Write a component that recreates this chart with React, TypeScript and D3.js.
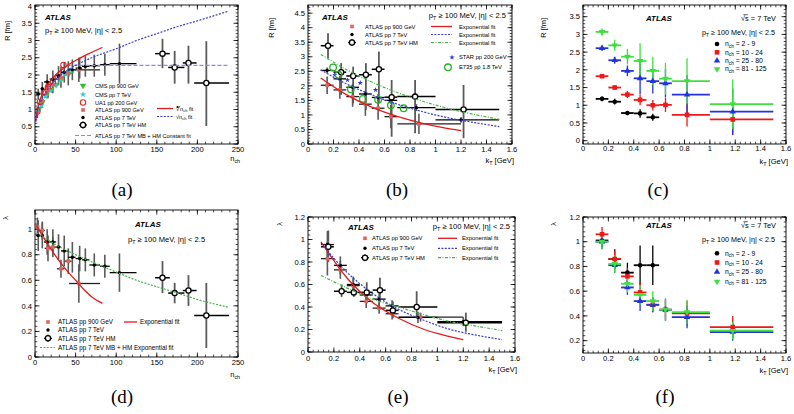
import React from 'react';
import * as d3 from 'd3';

// row: x, y, xLo, xHi, yLo, yHi
type Row = [number, number, number, number, number, number];
type Box = { l: number; r: number; t: number; b: number };
type MarkerKind = 'dot' | 'hm' | 'ocircle' | 'bigocircle' | 'square' | 'bigsquare' | 'circle' | 'tup' | 'tdown' | 'star' | 'smallstar';

const FONT = "'Liberation Sans', Arial, Helvetica, sans-serif";
const SALMON = '#e4615b';
const C_RED = '#f01818';
const C_BLUE = '#2233dd';
const C_GREEN = '#3ee03e';

// ---------- (a) / (d) : n_ch dependence ----------
const nchCMS900 = [5, 9, 14, 20, 26, 33, 42];
const rCMS900 = [1.02, 1.2, 1.42, 1.58, 1.72, 1.9, 2.05];
const nchCMS7 = [4, 8, 13, 19, 25, 31, 38, 46];
const rCMS7 = [0.95, 1.12, 1.38, 1.55, 1.72, 1.85, 2.02, 2.12];
const nchUA1 = [3, 6, 11, 16, 22, 28, 35];
const rUA1 = [0.95, 1.22, 1.5, 1.65, 1.8, 1.95, 2.29];

const nch900 = [3, 9, 16, 22, 32, 41, 54];
const nch900Lo = [1, 6, 12, 19, 27, 36, 42];
const nch900Hi = [5, 12, 19, 26, 36, 45, 80];
const r900n = [0.9, 1.25, 1.58, 1.72, 1.93, 2.05, 2.15];
const r900nErr = [0.15, 0.2, 0.25, 0.25, 0.3, 0.35, 0.35];
const lam900n = [1.02, 0.99, 0.85, 0.86, 0.69, 0.75, 0.575];
const lam900nErr = [0.07, 0.07, 0.1, 0.08, 0.07, 0.1, 0.15];

const nchMB = [4, 9, 15, 22, 29, 36, 46, 55, 62, 73, 86, 104];
const nchMBLo = [1, 7, 11, 18, 26, 32, 41, 50, 58, 67, 80, 92];
const nchMBHi = [7, 11, 18, 26, 32, 41, 50, 58, 67, 80, 92, 125];
const rMBn = [1.45, 1.6, 1.8, 1.88, 1.98, 2.08, 2.15, 2.2, 2.25, 2.27, 2.3, 2.33];
const rMBnErr = [0.15, 0.2, 0.22, 0.25, 0.28, 0.3, 0.3, 0.3, 0.3, 0.32, 0.32, 0.58];
const lamMBn = [0.95, 0.95, 0.9, 0.9, 0.86, 0.83, 0.78, 0.77, 0.76, 0.72, 0.71, 0.66];
const lamMBnErr = [0.12, 0.1, 0.1, 0.1, 0.1, 0.12, 0.12, 0.1, 0.09, 0.09, 0.09, 0.15];

const nchHM = [157, 172, 189, 211];
const nchHMLo = [148, 164, 182, 196];
const nchHMHi = [166, 184, 199, 239];
const rHMn = [2.62, 2.22, 2.35, 1.77];
const rHMnLo = [2.2, 1.75, 1.75, 0.52];
const rHMnHi = [3.05, 2.7, 2.85, 2.98];
const lamHMn = [0.62, 0.5, 0.52, 0.325];
const lamHMnLo = [0.5, 0.42, 0.4, 0.07];
const lamHMnHi = [0.75, 0.58, 0.64, 0.58];

const fitA_red: [number, number][] = [[1, 0.7], [3, 1.0], [5, 1.2], [10, 1.5], [20, 1.85], [30, 2.1], [40, 2.28], [50, 2.42], [60, 2.55], [70, 2.66], [83, 2.8]];
const fitA_blue: [number, number][] = [[1, 0.65], [3, 0.95], [5, 1.1], [10, 1.38], [20, 1.72], [30, 1.97], [50, 2.28], [75, 2.55], [100, 2.76], [125, 3.0], [150, 3.2], [175, 3.4], [200, 3.57], [238, 3.85]];
const fitA_const: [number, number][] = [[40, 2.28], [238, 2.28]];
const fitD_red: [number, number][] = [[2, 1.03], [10, 0.94], [20, 0.84], [30, 0.75], [40, 0.67], [50, 0.6], [60, 0.53], [70, 0.47], [83, 0.42]];
const fitD_green: [number, number][] = [[2, 0.97], [25, 0.88], [50, 0.8], [75, 0.73], [100, 0.665], [125, 0.6], [150, 0.55], [175, 0.5], [200, 0.45], [238, 0.39]];

// ---------- (b) / (e) : k_T dependence ----------
const kT900 = [0.15, 0.25, 0.35, 0.45, 0.55, 0.65, 0.87];
const kT900Lo = [0.1, 0.2, 0.3, 0.4, 0.5, 0.6, 0.7];
const kT900Hi = [0.2, 0.3, 0.4, 0.5, 0.6, 0.7, 1.2];
const r900k = [2.02, 1.86, 1.63, 1.37, 1.23, 0.94, 0.69];
const r900kErr = [0.3, 0.3, 0.35, 0.4, 0.4, 0.4, 0.35];
const lam900k = [0.83, 0.73, 0.59, 0.45, 0.39, 0.34, 0.31];
const lam900kErr = [0.15, 0.08, 0.07, 0.06, 0.05, 0.05, 0.04];

const kTMB = [0.15, 0.25, 0.35, 0.45, 0.55, 0.65, 0.85, 1.2];
const kTLo = [0.1, 0.2, 0.3, 0.4, 0.5, 0.6, 0.7, 1.0];
const kTHi = [0.2, 0.3, 0.4, 0.5, 0.6, 0.7, 1.0, 1.5];
const rMBk = [2.53, 2.24, 1.95, 1.72, 1.6, 1.5, 1.25, 0.83];
const rMBkErr = [0.1, 0.1, 0.12, 0.12, 0.12, 0.12, 0.12, 0.1];
const lamMBk = [0.955, 0.77, 0.6, 0.507, 0.47, 0.41, 0.307, 0.27];
const lamMBkErr = [0.12, 0.08, 0.07, 0.06, 0.06, 0.05, 0.05, 0.04];

const kTHM = [0.157, 0.26, 0.354, 0.454, 0.556, 0.656, 0.84, 1.22];
const rHMk = [3.38, 2.47, 2.34, 2.38, 2.57, 1.61, 1.63, 1.19];
const rHMkLo = [2.95, 1.69, 1.4, 1.17, 1.4, 0.25, 0.37, 0.2];
const rHMkHi = [3.81, 2.78, 2.66, 2.78, 3.18, 2.2, 2.2, 2.03];
const lamHMk = [0.935, 0.54, 0.53, 0.53, 0.55, 0.37, 0.4, 0.26];
const lamHMkLo = [0.8, 0.49, 0.49, 0.45, 0.45, 0.3, 0.3, 0.18];
const lamHMkHi = [1.08, 0.6, 0.59, 0.62, 0.66, 0.45, 0.54, 0.35];

const kTSTAR = [0.21, 0.31, 0.41, 0.53];
const rSTAR = [2.38, 2.2, 2.1, 1.86];
const kTE735 = [0.197, 0.24, 0.336, 0.43, 0.55, 0.65, 0.75];
const rE735 = [2.63, 2.38, 1.88, 1.55, 1.52, 1.33, 1.23];

const fitB_red: [number, number][] = [[0.1, 2.27], [0.3, 1.7], [0.5, 1.27], [0.7, 0.95], [0.9, 0.71], [1.05, 0.57], [1.2, 0.46]];
const fitB_blue: [number, number][] = [[0.1, 2.55], [0.3, 2.07], [0.5, 1.69], [0.7, 1.37], [0.9, 1.11], [1.1, 0.9], [1.3, 0.74], [1.5, 0.6]];
const fitB_green: [number, number][] = [[0.1, 3.08], [0.3, 2.56], [0.5, 2.13], [0.7, 1.77], [0.9, 1.47], [1.1, 1.22], [1.3, 1.02], [1.5, 0.85]];
const fitE_red: [number, number][] = [[0.1, 0.98], [0.3, 0.66], [0.5, 0.44], [0.7, 0.3], [0.9, 0.2], [1.05, 0.15], [1.2, 0.11]];
const fitE_blue: [number, number][] = [[0.1, 0.97], [0.3, 0.71], [0.5, 0.52], [0.7, 0.38], [0.9, 0.28], [1.1, 0.2], [1.3, 0.15], [1.5, 0.11]];
const fitE_green: [number, number][] = [[0.1, 0.68], [0.3, 0.57], [0.5, 0.47], [0.7, 0.4], [0.9, 0.33], [1.1, 0.27], [1.3, 0.23], [1.5, 0.19]];

// ---------- (c) / (f) : k_T in n_ch bins, 7 TeV ----------
const kTC = [0.15, 0.25, 0.35, 0.45, 0.55, 0.65, 0.82, 1.18];
const rC_2_9 = [1.18, 1.1, 0.78, 0.77, 0.66];
const rC_2_9Err = [0.07, 0.08, 0.06, 0.12, 0.1];
const rC_10_24 = [1.82, 1.5, 1.3, 1.15, 1.0, 1.01, 0.73, 0.6];
const rC_10_24Err = [0.05, 0.06, 0.1, 0.15, 0.15, 0.2, 0.33, 0.45];
const rC_25_80 = [2.61, 2.27, 1.97, 1.76, 1.68, 1.62, 1.3, 0.82];
const rC_25_80Err = [0.08, 0.1, 0.15, 0.45, 0.35, 0.4, 0.55, 0.65];
const rC_81_125 = [3.07, 2.69, 2.37, 2.25, 1.97, 1.75, 1.68, 1.03];
const rC_81_125Err = [0.1, 0.15, 0.22, 0.5, 0.4, 0.45, 0.65, 0.7];
const lamF_2_9 = [1.01, 0.86, 0.75, 0.81, 0.81];
const lamF_2_9Err = [0.05, 0.08, 0.08, 0.16, 0.16];
const lamF_10_24 = [1.06, 0.86, 0.72, 0.59, 0.49, 0.45, 0.42, 0.31];
const lamF_10_24Err = [0.06, 0.07, 0.07, 0.08, 0.06, 0.08, 0.1, 0.09];
const lamF_25_80 = [1.0, 0.81, 0.63, 0.52, 0.49, 0.45, 0.39, 0.27];
const lamF_25_80Err = [0.06, 0.06, 0.06, 0.08, 0.06, 0.09, 0.09, 0.07];
const lamF_81_125 = [1.0, 0.82, 0.66, 0.57, 0.52, 0.45, 0.43, 0.28];
const lamF_81_125Err = [0.06, 0.07, 0.07, 0.08, 0.08, 0.09, 0.1, 0.07];

// ---------- tick labels ----------
const nchTicks = [0, 50, 100, 150, 200, 250];
const kTTicks = [0, 0.2, 0.4, 0.6, 0.8, 1, 1.2, 1.4, 1.6];
const rTicksA = [0, 0.5, 1, 1.5, 2, 2.5, 3, 3.5, 4];
const rTicksB = [0, 0.5, 1, 1.5, 2, 2.5, 3, 3.5, 4, 4.5];
const rTicksC = [0, 0.5, 1, 1.5, 2, 2.5, 3, 3.5];
const lamTicksD = [0, 0.2, 0.4, 0.6, 0.8, 1];
const lamTicksE = [0, 0.2, 0.4, 0.6, 0.8, 1, 1.2];
const lamTicksF = [0.2, 0.4, 0.6, 0.8, 1, 1.2];

function rowsErr(x: number[], y: number[], x0: number[], x1: number[], err: number[]): Row[] {
    return y.map((v, i) => [x[i], v, x0[i], x1[i], v - err[i], v + err[i]] as Row);
}
function rowsLoHi(x: number[], y: number[], x0: number[], x1: number[], lo: number[], hi: number[]): Row[] {
    return y.map((v, i) => [x[i], v, x0[i], x1[i], lo[i], hi[i]] as Row);
}
function rowsPlain(x: number[], y: number[]): Row[] {
    return y.map((v, i) => [x[i], v, x[i], x[i], v, v] as Row);
}

interface Series {
    rows: Row[];
    marker: MarkerKind;
    color: string;
    hColor?: string;
    vColor?: string;
    hWidth?: number;
    vWidth?: number;
}
interface Fit {
    pts: [number, number][];
    color: string;
    dash?: string;
    width?: number;
}

function Marker({ kind, x, y, color }: { kind: MarkerKind; x: number; y: number; color: string }) {
    switch (kind) {
        case 'dot':
            return <circle cx={x} cy={y} r={1.7} fill={color} />;
        case 'circle':
            return <circle cx={x} cy={y} r={2.3} fill={color} />;
        case 'hm':
            return <circle cx={x} cy={y} r={2.6} fill="#fff" stroke="#000" strokeWidth={1.3} />;
        case 'ocircle':
            return <circle cx={x} cy={y} r={2.7} fill="none" stroke={color} strokeWidth={1.1} />;
        case 'bigocircle':
            return <circle cx={x} cy={y} r={3.3} fill="none" stroke={color} strokeWidth={1.3} />;
        case 'square':
            return <rect x={x - 1.8} y={y - 1.8} width={3.6} height={3.6} fill={color} />;
        case 'bigsquare':
            return <rect x={x - 2.3} y={y - 2.3} width={4.6} height={4.6} fill={color} />;
        case 'tup':
            return <path d={d3.symbol(d3.symbolTriangle, 18)()!} transform={`translate(${x},${y})`} fill={color} />;
        case 'tdown':
            return <path d={d3.symbol(d3.symbolTriangle, 18)()!} transform={`translate(${x},${y}) rotate(180)`} fill={color} />;
        case 'star':
            return <path d={d3.symbol(d3.symbolStar, 14)()!} transform={`translate(${x},${y})`} fill={color} />;
        case 'smallstar':
            return <path d={d3.symbol(d3.symbolStar, 9)()!} transform={`translate(${x},${y})`} fill={color} />;
    }
    return null;
}

interface PanelProps {
    box: Box;
    xDom: [number, number];
    yDom: [number, number];
    xTicks: number[];
    yTicks: number[];
    xMinor: number;
    yMinor: number;
    series: Series[];
    fits: Fit[];
    xTitle: React.ReactNode;
    yTitle: React.ReactNode;
    yTitleX: number;
    yTitleEnd: number;
    xTitleY: number;
    xLabelY: number;
    label: string;
    labelX: number;
    labelY: number;
    children?: React.ReactNode;
}

const TICK_FS = 7.6;

function Panel(p: PanelProps) {
    const { box } = p;
    const x = d3.scaleLinear().domain(p.xDom).range([box.l, box.r]);
    const y = d3.scaleLinear().domain(p.yDom).range([box.b, box.t]);
    const line = d3.line<[number, number]>().x(d => x(d[0])).y(d => y(d[1])).curve(d3.curveMonotoneX);
    const eps = 1e-9;
    const xMin = d3.range(Math.ceil(p.xDom[0] / p.xMinor - eps) * p.xMinor, p.xDom[1] + eps, p.xMinor);
    const yMin = d3.range(Math.ceil(p.yDom[0] / p.yMinor - eps) * p.yMinor, p.yDom[1] + eps, p.yMinor);
    const maj = 4.5, mnr = 2.3;
    const fmt = (v: number) => String(+v.toFixed(2));
    return (
        <g fontFamily={FONT}>
            <defs>
                <clipPath id={`clip-${p.label}`}>
                    <rect x={box.l} y={box.t} width={box.r - box.l} height={box.b - box.t} />
                </clipPath>
            </defs>
            {xMin.map((v, i) => (
                <g key={'xm' + i} stroke="#000" strokeWidth={0.7}>
                    <line x1={x(v)} x2={x(v)} y1={box.b} y2={box.b - mnr} />
                    <line x1={x(v)} x2={x(v)} y1={box.t} y2={box.t + mnr} />
                </g>
            ))}
            {yMin.map((v, i) => (
                <g key={'ym' + i} stroke="#000" strokeWidth={0.7}>
                    <line x1={box.l} x2={box.l + mnr} y1={y(v)} y2={y(v)} />
                    <line x1={box.r} x2={box.r - mnr} y1={y(v)} y2={y(v)} />
                </g>
            ))}
            {p.xTicks.map((v, i) => (
                <g key={'xt' + i}>
                    <line x1={x(v)} x2={x(v)} y1={box.b} y2={box.b - maj} stroke="#000" strokeWidth={0.8} />
                    <line x1={x(v)} x2={x(v)} y1={box.t} y2={box.t + maj} stroke="#000" strokeWidth={0.8} />
                    <text x={x(v)} y={p.xLabelY} fontSize={TICK_FS} textAnchor="middle">{fmt(v)}</text>
                </g>
            ))}
            {p.yTicks.map((v, i) => (
                <g key={'yt' + i}>
                    <line x1={box.l} x2={box.l + maj} y1={y(v)} y2={y(v)} stroke="#000" strokeWidth={0.8} />
                    <line x1={box.r} x2={box.r - maj} y1={y(v)} y2={y(v)} stroke="#000" strokeWidth={0.8} />
                    <text x={box.l - 3} y={y(v) + 2.7} fontSize={TICK_FS} textAnchor="end">{fmt(v)}</text>
                </g>
            ))}
            <g clipPath={`url(#clip-${p.label})`}>
                {p.series.map((s, si) => (
                    <g key={'s' + si}>
                        {s.rows.map((r, i) => (
                            <g key={i}>
                                {r[4] !== r[5] && (
                                    <line x1={x(r[0])} x2={x(r[0])} y1={y(r[4])} y2={y(r[5])}
                                        stroke={s.vColor ?? s.color} strokeWidth={s.vWidth ?? 1.4} />
                                )}
                                {r[2] !== r[3] && (
                                    <line x1={x(r[2])} x2={x(r[3])} y1={y(r[1])} y2={y(r[1])}
                                        stroke={s.hColor ?? s.color} strokeWidth={s.hWidth ?? 1.4} />
                                )}
                            </g>
                        ))}
                    </g>
                ))}
                {p.series.map((s, si) => (
                    <g key={'m' + si}>
                        {s.rows.map((r, i) => (
                            <Marker key={i} kind={s.marker} x={x(r[0])} y={y(r[1])} color={s.color} />
                        ))}
                    </g>
                ))}
                {p.fits.map((f, fi) => (
                    <path key={'f' + fi} d={line(f.pts)!} fill="none" stroke={f.color}
                        strokeWidth={f.width ?? 1.2} strokeDasharray={f.dash} />
                ))}
            </g>
            <rect x={box.l} y={box.t} width={box.r - box.l} height={box.b - box.t} fill="none" stroke="#000" strokeWidth={0.9} />
            <text x={box.r + 2} y={p.xTitleY} fontSize={7.6} textAnchor="end">{p.xTitle}</text>
            <text transform={`translate(${p.yTitleX},${p.yTitleEnd}) rotate(-90)`} fontSize={7.4} textAnchor="end">{p.yTitle}</text>
            <text x={p.labelX} y={p.labelY} fontFamily="'Liberation Serif', 'Times New Roman', serif" fontSize={19} textAnchor="middle">({p.label})</text>
            {p.children}
        </g>
    );
}

function PtText({ x, y, anchor = 'start', size = 7.6 }: { x: number; y: number; anchor?: string; size?: number }) {
    return (
        <text x={x} y={y} fontFamily={FONT} fontSize={size} textAnchor={anchor as any}>
            p<tspan dy={1.8} fontSize={size * 0.7}>T</tspan><tspan dy={-1.8}>{' \u2265 100 MeV, |\u03b7| < 2.5'}</tspan>
        </text>
    );
}
function Atlas({ x, y, anchor = 'start' }: { x: number; y: number; anchor?: string }) {
    return <text x={x} y={y} fontFamily={FONT} fontSize={7.9} fontWeight="bold" fontStyle="italic" textAnchor={anchor as any}>ATLAS</text>;
}
function SqrtS({ x, y }: { x: number; y: number }) {
    const fs = 7.4;
    return (
        <g fontFamily={FONT} fontSize={fs}>
            <text x={x} y={y} textAnchor="end">{'\u221As = 7 TeV'}</text>
            <line x1={x - 4.86 * fs + 0.45 * fs} x2={x - 4.86 * fs + 1.05 * fs} y1={y - 6.3} y2={y - 6.3} stroke="#000" strokeWidth={0.6} />
        </g>
    );
}
function Nch({ size }: { size: number }) {
    return <>n<tspan dy={1.6} fontSize={size * 0.7}>ch</tspan></>;
}
function KT() {
    return <>k<tspan dy={1.6} fontSize={5.4}>T</tspan><tspan dy={-1.6}> [GeV]</tspan></>;
}

function LegMarker({ kind, x, y, color, cross }: { kind: MarkerKind; x: number; y: number; color: string; cross?: boolean }) {
    return (
        <g>
            {cross && <line x1={x - 4} x2={x + 4} y1={y} y2={y} stroke="#000" strokeWidth={1.2} />}
            {cross && <line x1={x} x2={x} y1={y - 3.5} y2={y + 3.5} stroke="#000" strokeWidth={1.2} />}
            <Marker kind={kind} x={x} y={y} color={color} />
        </g>
    );
}

function NchLegend({ x, ys, size }: { x: number; ys: number[]; size: number }) {
    const items: [MarkerKind, string, string][] = [
        ['circle', '#000', '2 - 9'],
        ['bigsquare', C_RED, '10 - 24'],
        ['tup', C_BLUE, '25 - 80'],
        ['tdown', C_GREEN, '81 - 125'],
    ];
    return (
        <g fontFamily={FONT} fontSize={size}>
            {items.map((it, i) => (
                <g key={i}>
                    <Marker kind={it[0]} x={x} y={ys[i]} color={it[1]} />
                    <text x={x + 8} y={ys[i] + 2.3}>
                        n<tspan dy={1.5} fontSize={size * 0.7}>ch</tspan><tspan dy={-1.5}>{' = ' + it[2]}</tspan>
                    </text>
                </g>
            ))}
        </g>
    );
}

export default function App() {
    const W = 794, H = 414;
    const grey = '#5a5a5a';

    const mb = (rows: Row[]): Series => ({ rows, marker: 'dot', color: '#000', hColor: '#000', vColor: grey, hWidth: 1.3, vWidth: 1.6 });
    const hm = (rows: Row[]): Series => ({ rows, marker: 'hm', color: '#000', hColor: '#000', vColor: grey, hWidth: 1.5, vWidth: 1.8 });
    const s900 = (rows: Row[]): Series => ({ rows, marker: 'square', color: SALMON, hColor: '#222', vColor: grey, hWidth: 1.3, vWidth: 1.6 });
    const nchSer = (rows: Row[], marker: MarkerKind, color: string): Series => ({ rows, marker, color, hWidth: 1.8, vWidth: 1.3 });

    const kc5 = kTC.slice(0, 5), klo5 = kTLo.slice(0, 5), khi5 = kTHi.slice(0, 5);

    return (
        <svg width={W} height={H} style={{ position: 'absolute', left: 0, top: 0, background: '#fff' }}>
            <rect width={W} height={H} fill="#fff" />

            {/* (a) */}
            <Panel box={{ l: 35, r: 238, t: 5, b: 144 }} xDom={[0, 250]} yDom={[0, 4.03]}
                xTicks={nchTicks} yTicks={rTicksA} xMinor={10} yMinor={0.1}
                series={[
                    { rows: rowsPlain(nchCMS900, rCMS900), marker: 'tdown', color: '#2fbf2f' },
                    { rows: rowsPlain(nchCMS7, rCMS7), marker: 'star', color: '#33cccc' },
                    { rows: rowsPlain(nchUA1, rUA1), marker: 'ocircle', color: '#e02a2a' },
                    s900(rowsErr(nch900, r900n, nch900Lo, nch900Hi, r900nErr)),
                    mb(rowsErr(nchMB, rMBn, nchMBLo, nchMBHi, rMBnErr)),
                    hm(rowsLoHi(nchHM, rHMn, nchHMLo, nchHMHi, rHMnLo, rHMnHi)),
                ]}
                fits={[
                    { pts: fitA_const, color: '#8a8ae8', dash: '4,2' },
                    { pts: fitA_red, color: '#e21b1b', width: 1.3 },
                    { pts: fitA_blue, color: '#3a3ad0', dash: '2,1.4' },
                ]}
                xTitle={<Nch size={7.6} />} yTitle="R [fm]" yTitleX={10} yTitleEnd={21} xTitleY={161} xLabelY={152}
                label="a" labelX={122} labelY={196}>
                <Atlas x={45} y={20} />
                <PtText x={45} y={33} />
                <g fontFamily={FONT} fontSize={5.6}>
                    <LegMarker kind="tdown" x={83} y={85.5} color="#2fbf2f" />
                    <text x={95} y={87.5}>CMS pp 900 GeV</text>
                    <LegMarker kind="star" x={83} y={94.5} color="#33cccc" />
                    <text x={95} y={96.5}>CMS pp 7 TeV</text>
                    <LegMarker kind="ocircle" x={83} y={102.5} color="#e02a2a" />
                    <text x={95} y={104.5}>{'UA1 pp\u0304 200 GeV'}</text>
                    <LegMarker kind="square" x={83} y={110} color={SALMON} />
                    <text x={95} y={112}>ATLAS pp 900 GeV</text>
                    <LegMarker kind="dot" x={83} y={117.5} color="#000" />
                    <text x={95} y={119.5}>ATLAS pp 7 TeV</text>
                    <LegMarker kind="hm" x={83} y={125} color="#000" cross />
                    <text x={95} y={127}>ATLAS pp 7 TeV HM</text>
                    <line x1={75} x2={92} y1={135.5} y2={135.5} stroke="#8a8ae8" strokeWidth={1.2} strokeDasharray="4,2" />
                    <text x={95} y={137.5}>ATLAS pp 7 TeV MB + HM Constant fit</text>
                    <line x1={157} x2={173} y1={108.5} y2={108.5} stroke="#e21b1b" strokeWidth={1.3} />
                    <text x={176} y={111}>{'\u221Bn'}<tspan dy={1.3} fontSize={4}>ch</tspan><tspan dy={-1.3}> fit</tspan></text>
                    <line x1={157} x2={173} y1={116.5} y2={116.5} stroke="#3a3ad0" strokeWidth={1.2} strokeDasharray="2,1.4" />
                    <text x={176} y={119}>{'\u221An'}<tspan dy={1.3} fontSize={4}>ch</tspan><tspan dy={-1.3}> fit</tspan></text>
                </g>
            </Panel>

            {/* (b) */}
            <Panel box={{ l: 308, r: 512, t: 5, b: 144 }} xDom={[0, 1.6]} yDom={[0, 4.78]}
                xTicks={kTTicks} yTicks={rTicksB} xMinor={0.04} yMinor={0.1}
                series={[
                    s900(rowsErr(kT900, r900k, kT900Lo, kT900Hi, r900kErr)),
                    mb(rowsErr(kTMB, rMBk, kTLo, kTHi, rMBkErr)),
                    hm(rowsLoHi(kTHM, rHMk, kTLo, kTHi, rHMkLo, rHMkHi)),
                    { rows: rowsPlain(kTSTAR, rSTAR), marker: 'smallstar', color: '#3333cc' },
                    { rows: rowsPlain(kTE735, rE735), marker: 'bigocircle', color: '#27b027' },
                ]}
                fits={[
                    { pts: fitB_red, color: '#e21b1b', width: 1.3 },
                    { pts: fitB_blue, color: '#3a3ad0', dash: '2,1.4' },
                    { pts: fitB_green, color: '#44b444', dash: '3,1.5,1,1.5' },
                ]}
                xTitle={<KT />}
                yTitle="R [fm]" yTitleX={274} yTitleEnd={18} xTitleY={163} xLabelY={152}
                label="b" labelX={397} labelY={196}>
                <Atlas x={322} y={20} />
                <PtText x={506} y={18} anchor="end" />
                <g fontFamily={FONT} fontSize={5.8}>
                    <LegMarker kind="square" x={352} y={26.5} color={SALMON} />
                    <text x={365} y={28.5}>ATLAS pp 900 GeV</text>
                    <LegMarker kind="dot" x={352} y={34.5} color="#000" />
                    <text x={365} y={36.5}>ATLAS pp 7 TeV</text>
                    <LegMarker kind="hm" x={352} y={42.5} color="#000" cross />
                    <text x={365} y={44.5}>ATLAS pp 7 TeV HM</text>
                    <line x1={431} x2={452} y1={26.5} y2={26.5} stroke="#e21b1b" strokeWidth={1.3} />
                    <text x={459} y={28.5}>Exponential fit</text>
                    <line x1={431} x2={452} y1={34.5} y2={34.5} stroke="#3a3ad0" strokeWidth={1.2} strokeDasharray="2,1.4" />
                    <text x={459} y={36.5}>Exponential fit</text>
                    <line x1={431} x2={452} y1={42.5} y2={42.5} stroke="#44b444" strokeWidth={1.2} strokeDasharray="3,1.5,1,1.5" />
                    <text x={459} y={44.5}>Exponential fit</text>
                    <LegMarker kind="smallstar" x={452} y={57.3} color="#3333cc" />
                    <text x={459} y={59.3}>STAR pp 200 GeV</text>
                    <LegMarker kind="bigocircle" x={448} y={67.3} color="#27b027" />
                    <text x={459} y={69.3}>{'E735 pp\u0304 1.8 TeV'}</text>
                </g>
            </Panel>

            {/* (c) */}
            <Panel box={{ l: 583, r: 786, t: 5, b: 144 }} xDom={[0, 1.6]} yDom={[-0.094, 3.83]}
                xTicks={kTTicks} yTicks={rTicksC} xMinor={0.04} yMinor={0.1}
                series={[
                    nchSer(rowsErr(kc5, rC_2_9, klo5, khi5, rC_2_9Err), 'circle', '#000'),
                    nchSer(rowsErr(kTC, rC_10_24, kTLo, kTHi, rC_10_24Err), 'bigsquare', C_RED),
                    nchSer(rowsErr(kTC, rC_25_80, kTLo, kTHi, rC_25_80Err), 'tup', C_BLUE),
                    nchSer(rowsErr(kTC, rC_81_125, kTLo, kTHi, rC_81_125Err), 'tdown', C_GREEN),
                ]}
                fits={[]}
                xTitle={<KT />}
                yTitle="R [fm]" yTitleX={546} yTitleEnd={18} xTitleY={164} xLabelY={151}
                label="c" labelX={658} labelY={196}>
                <Atlas x={646} y={21} />
                <SqrtS x={776} y={21} />
                <PtText x={775} y={35} anchor="end" size={7.2} />
                <NchLegend x={717} ys={[44, 52.3, 60.7, 69]} size={6.8} />
            </Panel>

            {/* (d) */}
            <Panel box={{ l: 35, r: 238, t: 210, b: 357 }} xDom={[0, 250]} yDom={[0, 1.15]}
                xTicks={nchTicks} yTicks={lamTicksD} xMinor={10} yMinor={0.04}
                series={[
                    s900(rowsErr(nch900, lam900n, nch900Lo, nch900Hi, lam900nErr)),
                    mb(rowsErr(nchMB, lamMBn, nchMBLo, nchMBHi, lamMBnErr)),
                    hm(rowsLoHi(nchHM, lamHMn, nchHMLo, nchHMHi, lamHMnLo, lamHMnHi)),
                ]}
                fits={[
                    { pts: fitD_red, color: '#e21b1b', width: 1.3 },
                    { pts: fitD_green, color: '#44b444', dash: '2,1.4' },
                ]}
                xTitle={<Nch size={7.6} />} yTitle={'\u03bb'} yTitleX={8} yTitleEnd={216} xTitleY={377} xLabelY={365}
                label="d" labelX={122} labelY={403}>
                <Atlas x={135} y={227} />
                <PtText x={128} y={242} />
                <g fontFamily={FONT} fontSize={6.3}>
                    <LegMarker kind="square" x={48} y={322} color={SALMON} />
                    <text x={58} y={324.2}>ATLAS pp 900 GeV</text>
                    <LegMarker kind="dot" x={48} y={330} color="#000" />
                    <text x={58} y={332.2}>ATLAS pp 7 TeV</text>
                    <LegMarker kind="hm" x={48} y={338.3} color="#000" cross />
                    <text x={58} y={340.5}>ATLAS pp 7 TeV HM</text>
                    <line x1={40} x2={55} y1={347.5} y2={347.5} stroke="#44b444" strokeWidth={1.2} strokeDasharray="2,1.4" />
                    <text x={58} y={349.7}>ATLAS pp 7 TeV MB + HM Exponential fit</text>
                    <line x1={124} x2={137} y1={322} y2={322} stroke="#e21b1b" strokeWidth={1.3} />
                    <text x={140} y={324.2}>Exponential fit</text>
                </g>
            </Panel>

            {/* (e) */}
            <Panel box={{ l: 308, r: 515, t: 217, b: 352 }} xDom={[0, 1.6]} yDom={[0, 1.2]}
                xTicks={kTTicks} yTicks={lamTicksE} xMinor={0.04} yMinor={0.04}
                series={[
                    s900(rowsErr(kT900, lam900k, kT900Lo, kT900Hi, lam900kErr)),
                    mb(rowsErr(kTMB, lamMBk, kTLo, kTHi, lamMBkErr)),
                    hm(rowsLoHi(kTHM, lamHMk, kTLo, kTHi, lamHMkLo, lamHMkHi)),
                ]}
                fits={[
                    { pts: fitE_red, color: '#e21b1b', width: 1.3 },
                    { pts: fitE_blue, color: '#3a3ad0', dash: '2,1.4' },
                    { pts: fitE_green, color: '#44b444', dash: '3,1.5,1,1.5' },
                ]}
                xTitle={<KT />}
                yTitle={'\u03bb'} yTitleX={282} yTitleEnd={222} xTitleY={372} xLabelY={361}
                label="e" labelX={398} labelY={403}>
                <Atlas x={348} y={230} />
                <PtText x={510} y={229} anchor="end" />
                <g fontFamily={FONT} fontSize={5.8}>
                    <LegMarker kind="square" x={365} y={238.3} color={SALMON} />
                    <text x={372} y={240.4}>ATLAS pp 900 GeV</text>
                    <LegMarker kind="dot" x={365} y={248.3} color="#000" />
                    <text x={372} y={250.4}>ATLAS pp 7 TeV</text>
                    <LegMarker kind="hm" x={365} y={257.7} color="#000" cross />
                    <text x={372} y={259.8}>ATLAS pp 7 TeV HM</text>
                    <line x1={438} x2={457} y1={238.3} y2={238.3} stroke="#e21b1b" strokeWidth={1.3} />
                    <text x={462} y={240.4}>Exponential fit</text>
                    <line x1={438} x2={457} y1={248.3} y2={248.3} stroke="#3a3ad0" strokeWidth={1.2} strokeDasharray="2,1.4" />
                    <text x={462} y={250.4}>Exponential fit</text>
                    <line x1={438} x2={457} y1={257.7} y2={257.7} stroke="#44b444" strokeWidth={1.2} strokeDasharray="3,1.5,1,1.5" />
                    <text x={462} y={259.8}>Exponential fit</text>
                </g>
            </Panel>

            {/* (f) */}
            <Panel box={{ l: 583, r: 786, t: 217, b: 353 }} xDom={[0, 1.6]} yDom={[0.1, 1.2]}
                xTicks={kTTicks} yTicks={lamTicksF} xMinor={0.04} yMinor={0.04}
                series={[
                    nchSer(rowsErr(kc5, lamF_2_9, klo5, khi5, lamF_2_9Err), 'circle', '#000'),
                    nchSer(rowsErr(kTC, lamF_10_24, kTLo, kTHi, lamF_10_24Err), 'bigsquare', C_RED),
                    nchSer(rowsErr(kTC, lamF_25_80, kTLo, kTHi, lamF_25_80Err), 'tup', C_BLUE),
                    nchSer(rowsErr(kTC, lamF_81_125, kTLo, kTHi, lamF_81_125Err), 'tdown', C_GREEN),
                ]}
                fits={[]}
                xTitle={<KT />}
                yTitle={'\u03bb'} yTitleX={556} yTitleEnd={222} xTitleY={373} xLabelY={361}
                label="f" labelX={665} labelY={403}>
                <Atlas x={646} y={228} />
                <SqrtS x={776} y={228} />
                <PtText x={775} y={242} anchor="end" size={7.2} />
                <NchLegend x={717} ys={[253.3, 262.5, 272, 281.5]} size={6.8} />
            </Panel>
        </svg>
    );
}
